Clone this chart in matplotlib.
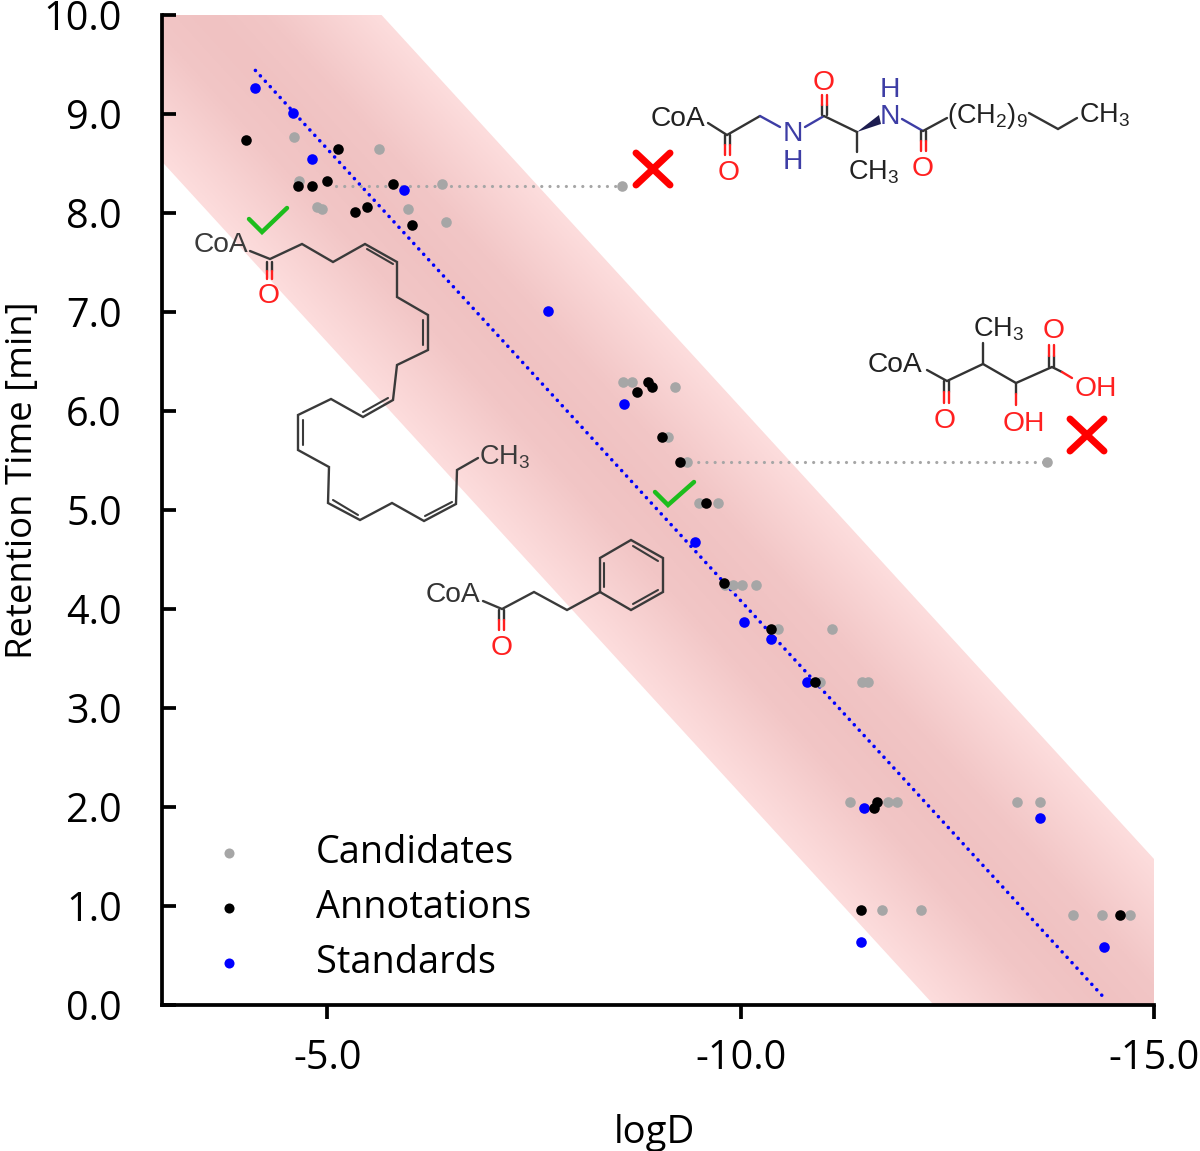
import numpy as np
import matplotlib
matplotlib.use("Agg")
import matplotlib.pyplot as plt
from matplotlib.colors import LinearSegmentedColormap
from matplotlib.patches import Polygon

plt.rcParams['font.family'] = ['Open Sans', 'DejaVu Sans']
plt.rcParams['mathtext.default'] = 'regular'

# data
cand_x = [-4.60, -5.62, -4.66, -6.39, -4.88, -4.93, -5.98, -6.43, -8.56, -8.58, -8.68, -9.21,
          -9.12, -9.35, -9.49, -9.73, -9.81, -9.91, -10.02, -10.19, -10.45, -11.11, -10.96,
          -11.47, -11.54, -11.32, -11.78, -11.89, -13.34, -13.62, -11.71, -12.18, -14.02,
          -14.37, -14.71, -13.71]
cand_y = [8.77, 8.65, 8.32, 8.29, 8.06, 8.04, 8.04, 7.91, 8.27, 6.29, 6.29, 6.24,
          5.74, 5.48, 5.07, 5.07, 4.24, 4.24, 4.24, 4.24, 3.80, 3.80, 3.26,
          3.26, 3.26, 2.05, 2.05, 2.05, 2.05, 2.05, 0.96, 0.96, 0.91,
          0.91, 0.91, 5.48]
anno_x = [-4.02, -5.13, -4.64, -4.81, -4.99, -5.80, -5.33, -5.48, -6.02, -8.88, -8.93, -8.74,
          -9.05, -9.27, -9.58, -9.80, -10.37, -10.90, -11.65, -11.61, -11.46, -14.59]
anno_y = [8.74, 8.65, 8.27, 8.27, 8.32, 8.29, 8.01, 8.06, 7.88, 6.29, 6.24, 6.19,
          5.74, 5.48, 5.07, 4.26, 3.80, 3.26, 2.05, 1.99, 0.96, 0.91]
std_x = [-4.13, -4.59, -4.81, -5.93, -7.67, -8.59, -9.45, -10.04, -10.37, -10.80, -11.49,
         -13.62, -11.46, -14.40]
std_y = [9.26, 9.01, 8.55, 8.23, 7.01, 6.07, 4.68, 3.87, 3.70, 3.26, 1.99, 1.89, 0.64, 0.59]

fit_x = [-4.13, -14.40]
fit_y = [9.44, 0.07]
band_halfwidth = 2.14
guide1_x = [-5.10, -8.56]
guide1_y = [8.27, 8.27]
guide2_x = [-9.39, -13.71]
guide2_y = [5.48, 5.48]

x_ticks = [-5, -10, -15]
x_labels = ['-5.0', '-10.0', '-15.0']
y_ticks = list(range(0, 11))
y_labels = [f'{v:.1f}' for v in y_ticks]

# structures, in picture pixels
DARK = '#3a3a3a'
RED = '#ff2020'
NAVY = '#3d3da5'
GREEN = '#1dbd1d'

chain_dha = [(250, 251), (270, 259), (302, 244), (333, 262), (365, 244), (397, 262), (397, 297),
             (428, 315), (428, 350), (397, 365), (393, 400), (363, 417), (331, 399), (298, 415),
             (298, 450), (329, 467), (328, 503), (360, 520), (392, 503), (424, 521), (456, 504),
             (457, 470), (478, 458)]
inner_dha = [[(367, 249), (393, 264)], [(423, 320), (423, 345)], [(363, 412), (388, 398)],
             [(303, 420), (303, 445)], [(333, 500), (358, 515)], [(425, 516), (452, 502)]]
chain_phe = [(483, 601), (502, 609), (534, 592), (567, 610), (600, 592)]
ring_phe = [(600, 592), (600, 558), (631, 540), (663, 558), (663, 592), (631, 610), (600, 592)]
inner_phe = [[(604, 563), (604, 587)], [(633, 546), (658, 561)], [(633, 604), (658, 590)]]
chain_top = [(708, 123), (727, 135), (760, 116)]
navy_top = [[(760, 116), (780, 127)], [(805, 127), (824, 116)], [(902, 119), (923, 131)]]
dark_top = [[(824, 116), (857, 132)], [(857, 132), (857, 152)], [(923, 131), (947, 118)],
            [(1029, 113), (1058, 129), (1077, 118)]]
chain_acid = [(927, 370), (947, 381), (983, 364), (1016, 383), (1052, 367)]
dark_acid = [[(983, 364), (983, 343)], [(1016, 383), (1016, 394)], [(1052, 367), (1062, 372)]]
red_acid = [[(1016, 394), (1016, 405)], [(1062, 372), (1072, 378)]]
# two-line carbonyls: x of first line, y at the carbon, y at the oxygen
carbonyls = [(267, 262, 279), (499, 610, 630), (725, 135, 155), (822, 115, 95), (921, 131, 151),
             (944, 381, 403), (1049, 367, 345)]
checks = [[(249, 219), (262, 232), (287, 208)], [(655, 492), (668, 505), (694, 482)]]
crosses = [(653, 169), (1087, 435)]

fig = plt.figure(figsize=(12, 11.51), dpi=100)
ax = fig.add_axes([162 / 1200, (1151 - 1005) / 1151, 992 / 1200, 990 / 1151])

# shaded band around the fit
slope = (fit_x[1] - fit_x[0]) / (fit_y[1] - fit_y[0])
centre = lambda y: fit_x[0] + slope * (y - fit_y[0])
xx, yy = np.meshgrid(np.linspace(-3, -15, 600), np.linspace(0, 10, 600))
shade = np.abs(xx - centre(yy)) / band_halfwidth
cmap = LinearSegmentedColormap.from_list('band', [(0, '#f0c2c2'), (0.35, '#f2c6c6'), (1, '#fddddd')])
im = ax.imshow(shade, extent=[-3, -15, 0, 10], origin='lower', aspect='auto', cmap=cmap,
               vmin=0, vmax=1, zorder=1)
band = Polygon([(centre(-1) - band_halfwidth, -1), (centre(11) - band_halfwidth, 11),
                (centre(11) + band_halfwidth, 11), (centre(-1) + band_halfwidth, -1)],
               transform=ax.transData, fill=False, edgecolor='none')
ax.add_patch(band)
im.set_clip_path(band)
ax.set_xlim(-3, -15)
ax.set_ylim(0, 10)

ax.plot(fit_x, fit_y, color='#0000ff', lw=2.6, dashes=(0.01, 2.02), dash_capstyle='round', zorder=2)
for gx, gy in [(guide1_x, guide1_y), (guide2_x, guide2_y)]:
    ax.plot(gx, gy, color='#a6a6a6', lw=2.3, dashes=(0.01, 2.56), dash_capstyle='round', zorder=2)

ax.scatter(cand_x, cand_y, s=58, color='#a6a6a6', linewidths=0, label='Candidates', zorder=3)
ax.scatter(anno_x, anno_y, s=58, color='black', linewidths=0, label='Annotations', zorder=5)
ax.scatter(std_x, std_y, s=58, color='#0000ff', linewidths=0, label='Standards', zorder=4)

ax.spines['top'].set_visible(False)
ax.spines['right'].set_visible(False)
ax.spines['left'].set_linewidth(2.7)
ax.spines['bottom'].set_linewidth(2.7)
ax.set_xticks(x_ticks)
ax.set_xticklabels(x_labels)
ax.set_yticks(y_ticks)
ax.set_yticklabels(y_labels)
ax.tick_params(axis='y', direction='in', length=10, width=2.7, labelsize=28.5, pad=29)
ax.tick_params(axis='x', direction='out', length=10, width=2.7, labelsize=28.5, pad=14)
ax.set_xlabel('logD', fontsize=27.5)
ax.xaxis.set_label_coords(0.496, -0.110)
ax.set_ylabel('Retention Time [min]', fontsize=26.3)
ax.yaxis.set_label_coords(-0.122, 0.53)

ax.legend(loc='lower left', bbox_to_anchor=(0.025, 0.019), frameon=False, fontsize=27.3,
          scatterpoints=1, handlelength=2, handletextpad=1.3, labelspacing=0.45,
          borderaxespad=0, borderpad=0.1, markerscale=0.95)

# overlay in picture pixels for the drawn molecules
ov = fig.add_axes([0, 0, 1, 1], facecolor='none')
ov.set_xlim(0, 1200)
ov.set_ylim(1151, 0)
ov.axis('off')


def line(pts, color=DARK, lw=1.7):
    ov.plot([p[0] for p in pts], [p[1] for p in pts], color=color, lw=lw,
            solid_capstyle='round', solid_joinstyle='miter')


def label(x, y, s, color='#222222', size=20.3, ha='center'):
    ov.text(x, y + 1.5, s, color=color, fontsize=size, ha=ha, va='center', family='Liberation Sans')


line(chain_dha)
for seg in inner_dha + inner_phe:
    line(seg, lw=1.5)
line(chain_phe)
line(ring_phe)
line(chain_top, color='#333333')
for seg in navy_top:
    line(seg, color=NAVY)
for seg in dark_top:
    line(seg, color='#333333')
line(chain_acid, color='#333333')
for seg in dark_acid:
    line(seg, color='#333333')
for seg in red_acid:
    line(seg, color=RED)

for cx, y_c, y_o in carbonyls:
    mid = (y_c + y_o) / 2
    for off in (0, 5):
        line([(cx + off, y_c), (cx + off, mid)], color='#333333')
        line([(cx + off, mid), (cx + off, y_o)], color=RED)

# stereo wedge on the top structure
ov.add_patch(Polygon([(857, 132), (879, 115), (881, 124)], closed=True, color='#1c1c50', lw=0))

label(221, 243, 'CoA', color='#3a3a3a')
label(269, 294, 'O', color=RED)
label(479, 456, 'CH$_3$', color='#3a3a3a', size=19.5, ha='left')
label(453, 593, 'CoA', color='#333333')
label(502, 646, 'O', color=RED)

label(678, 117, 'CoA')
label(729, 171, 'O', color=RED)
label(824, 81, 'O', color=RED)
label(793, 132, 'N', color=NAVY)
label(793, 160, 'H', color=NAVY)
label(890, 115, 'N', color=NAVY)
label(890, 88, 'H', color=NAVY)
label(923, 167, 'O', color=RED)
label(848, 171, 'CH$_3$', size=19.5, ha='left')
label(947, 114, '(CH$_2$)$_9$', size=19.5, ha='left')
label(1079, 114, 'CH$_3$', size=19.5, ha='left')

label(895, 363, 'CoA')
label(973, 328, 'CH$_3$', size=19.5, ha='left')
label(1054, 329, 'O', color=RED)
label(945, 419, 'O', color=RED)
label(1096, 387, 'OH', color=RED)
label(1024, 422, 'OH', color=RED)

for pts in checks:
    line(pts, color=GREEN, lw=3.2)
for cx, cy in crosses:
    line([(cx - 17, cy - 16), (cx + 17, cy + 16)], color='#ff0000', lw=5)
    line([(cx - 17, cy + 16), (cx + 17, cy - 16)], color='#ff0000', lw=5)

fig.savefig('out.png', dpi=100)
